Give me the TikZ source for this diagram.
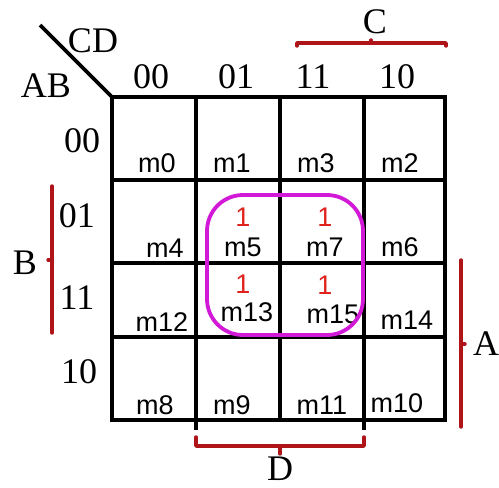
\documentclass[tikz,border=0pt]{standalone}
\usepackage{fontspec}
\setmainfont{Liberation Serif}
\setsansfont{Liberation Sans}
\definecolor{bracered}{RGB}{175,20,25}
\definecolor{onered}{RGB}{225,35,30}
\definecolor{loopcol}{RGB}{210,25,215}
\begin{document}
\begin{tikzpicture}[x=1pt,y=-1pt,
  gridline/.style={line width=3.8pt},
  brace/.style={draw=bracered,line width=3.4pt,line cap=round,line join=round},
  hdr/.style={font=\fontsize{36}{36}\selectfont, inner sep=0pt},
  letter/.style={font=\fontsize{36}{36}\selectfont, inner sep=0pt},
  cell/.style={font=\sffamily\fontsize{27}{27}\selectfont, inner sep=0pt},
  one/.style={font=\sffamily\fontsize{27}{27}\selectfont, text=onered, inner sep=0pt},
  loop/.style={draw=loopcol, line width=3.8pt, rounded corners=36pt}]
\useasboundingbox (0,0) rectangle (499,488);
\fill[white] (0,0) rectangle (499,488);

% K-map grid
\draw[gridline] (112,97) rectangle (445,420);
\draw[gridline] (196,97) -- (196,430);
\draw[gridline] (280,97) -- (280,420);
\draw[gridline] (364,97) -- (364,430);
\draw[gridline] (112,180) -- (445,180);
\draw[gridline] (112,263) -- (445,263);
\draw[gridline] (112,337) -- (445,337);

% corner divider
\draw[gridline] (40,25) -- (112,97);
\node[letter] (cd) at (93,41) {CD};
\node[letter] (ab) at (46,86) {AB};

% column headings
\node[hdr] (c00) at (151,77) {00};
\node[hdr] (c01) at (236,77) {01};
\node[hdr] (c11) at (313,77) {11};
\node[hdr] (c10) at (397,77) {10};

% row headings
\node[hdr] (r00) at (82,141) {00};
\node[hdr] (r01) at (77,216) {01};
\node[hdr] (r11) at (77,298) {11};
\node[hdr] (r10) at (79,372) {10};

% minterm labels
\node[cell] (m0)  at (157,163) {m0};
\node[cell] (m1)  at (232,163) {m1};
\node[cell] (m3)  at (316,163) {m3};
\node[cell] (m2)  at (400,163) {m2};
\node[cell] (m4)  at (165,248) {m4};
\node[cell] (m5)  at (243,247) {m5};
\node[cell] (m7)  at (325,247) {m7};
\node[cell] (m6)  at (400,247) {m6};
\node[cell] (m12) at (162,322) {m12};
\node[cell] (m13) at (247,312) {m13};
\node[cell] (m15) at (333,314) {m15};
\node[cell] (m14) at (407,320) {m14};
\node[cell] (m8)  at (155,405) {m8};
\node[cell] (m9)  at (232,405) {m9};
\node[cell] (m11) at (322,405) {m11};
\node[cell] (m10) at (397,403) {m10};

% ones
\node[one] (o5)  at (243,217) {1};
\node[one] (o7)  at (325,217) {1};
\node[one] (o13) at (243,284) {1};
\node[one] (o15) at (325,285) {1};

% grouping loop
\draw[loop] (207,195) rectangle (363,335);

% variable brackets
\draw[brace] (297,46) -- (297,43) -- (446,43) -- (446,46);
\draw[brace] (371,43) -- (371,40);
\node[letter] (lc) at (375,22) {C};

\draw[brace] (196,437) -- (196,446) -- (364,446) -- (364,437);
\draw[brace] (280,446) -- (280,454);
\node[letter] (ld) at (280,469) {D};

\draw[brace] (52,186) -- (52,333);
\draw[brace] (52,260) -- (48,260);
\node[letter] (lb) at (25,263) {B};

\draw[brace] (461,260) -- (461,427);
\draw[brace] (461,344) -- (465,344);
\node[letter] (la) at (486,344) {A};
\end{tikzpicture}
\end{document}
